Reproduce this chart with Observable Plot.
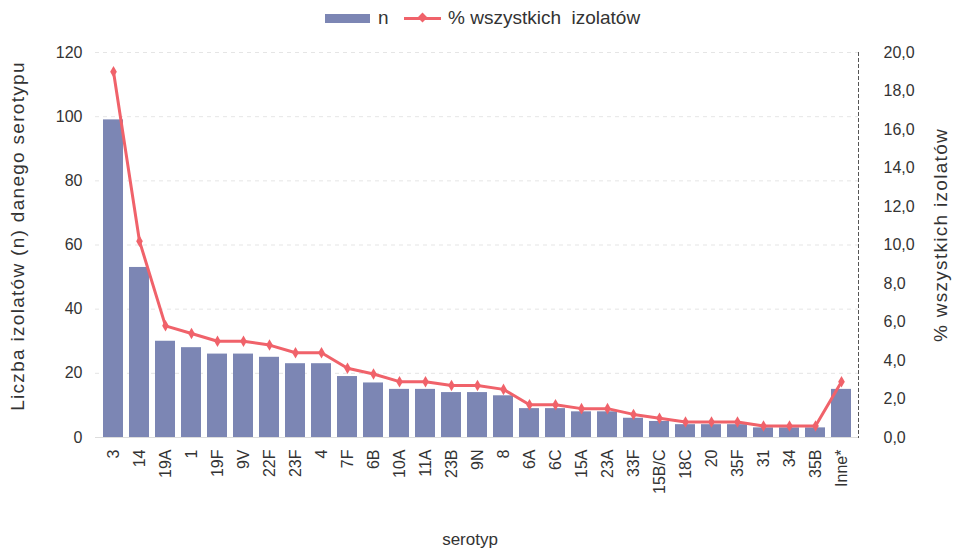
<!DOCTYPE html>
<html>
<head>
<meta charset="utf-8">
<script src="https://cdn.jsdelivr.net/npm/d3@7"></script>
<script src="https://cdn.jsdelivr.net/npm/@observablehq/plot@0.6"></script>
<style>
  body { margin: 0; background: #fff; font-family: "Liberation Sans", Arial, sans-serif; }
  #legend { position: relative; height: 40px; width: 958px; color: #333; font-size: 19px; }
  .item { position: absolute; top: 7px; display: flex; align-items: center; height: 22px; }
  .sw-bar { width: 45px; height: 9px; background: #7c86b4; margin-right: 8px; }
  .sw-line { position: relative; width: 37px; height: 3px; background: #f0626a; margin-right: 7px; }
  .sw-line::after { content: ""; position: absolute; left: 15px; top: -3px; width: 7px; height: 7px; background: #f0626a; transform: rotate(45deg); }
</style>
</head>
<body>
<div id="legend">
  <div class="item" style="left:325px"><div class="sw-bar"></div><span>n</span></div>
  <div class="item" style="left:404px"><div class="sw-line"></div><span>% wszystkich&nbsp; izolatów</span></div>
</div>
<div id="chart"></div>
<script>
const serotypes = ["3","14","19A","1","19F","9V","22F","23F","4","7F","6B","10A","11A","23B","9N","8","6A","6C","15A","23A","33F","15B/C","18C","20","35F","31","34","35B","Inne*"];
const counts = [99,53,30,28,26,26,25,23,23,19,17,15,15,14,14,13,9,9,8,8,6,5,4,4,4,3,3,3,15];
const percents = [19.0,10.2,5.8,5.4,5.0,5.0,4.8,4.4,4.4,3.6,3.3,2.9,2.9,2.7,2.7,2.5,1.7,1.7,1.5,1.5,1.2,1.0,0.8,0.8,0.8,0.6,0.6,0.6,2.9];
const leftTicks = [0,20,40,60,80,100,120];
const rightTicks = [0,2,4,6,8,10,12,14,16,18,20];
const rightTickLabels = ["0,0","2,0","4,0","6,0","8,0","10,0","12,0","14,0","16,0","18,0","20,0"];
const leftTitle = "Liczba izolatów (n) danego serotypu";
const rightTitle = "% wszystkich izolatów";
const xTitle = "serotyp";

const leftMax = 120, rightMax = 20;
const ratio = leftMax / rightMax;
const data = serotypes.map((s, i) => ({s, n: counts[i], p: percents[i]}));
const rightMap = new Map(rightTicks.map((v, i) => [v * ratio, rightTickLabels[i]]));

const chart = Plot.plot({
  width: 958,
  height: 515,
  marginTop: 12,
  marginBottom: 118,
  marginLeft: 95,
  marginRight: 100,
  style: {fontFamily: "Liberation Sans, Arial, sans-serif", fontSize: "16px", color: "#333", background: "#fff"},
  x: {domain: serotypes, padding: 0.25, label: null},
  y: {domain: [0, leftMax], label: null},
  marks: [
    Plot.gridY(leftTicks, {stroke: "#aaa", strokeOpacity: 0.3, strokeDasharray: "4,4"}),
    Plot.ruleY([0], {stroke: "#ddd"}),
    Plot.barY(data, {x: "s", y: "n", fill: "#7c86b4"}),
    Plot.line(data, {x: "s", y: d => d.p * ratio, stroke: "#f0626a", strokeWidth: 3}),
    Plot.dot(data, {x: "s", y: d => d.p * ratio, symbol: "diamond", r: 3.5, fill: "#f0626a"}),
    Plot.axisY(leftTicks, {anchor: "left", tickSize: 0, tickPadding: 13, label: null, fontSize: 16}),
    Plot.axisY(rightTicks.map(v => v * ratio), {anchor: "right", tickSize: 0, tickPadding: 25, label: null, tickFormat: d => rightMap.get(d), fontSize: 16}),
    Plot.axisX({tickRotate: -90, tickSize: 0, tickPadding: 12, label: null, fontSize: 16}),
    Plot.frame({anchor: "right", stroke: "#555", strokeDasharray: "3,3"}),
    Plot.text([leftTitle], {frameAnchor: "left", textAnchor: "middle", dx: -78, dy: -9, rotate: -90, fontSize: 19, fill: "#333"}),
    Plot.text([rightTitle], {frameAnchor: "right", textAnchor: "middle", dx: 82, dy: -10, rotate: -90, fontSize: 19, fill: "#333"}),
    Plot.text([xTitle], {frameAnchor: "bottom", textAnchor: "middle", dx: -7, dy: 107, fontSize: 17, fill: "#333"})
  ]
});
d3.select(chart).selectAll("text").filter(function() {
  const t = this.textContent;
  return t === leftTitle || t === rightTitle;
}).attr("letter-spacing", "1.3px");
document.getElementById("chart").appendChild(chart);
</script>
</body>
</html>
